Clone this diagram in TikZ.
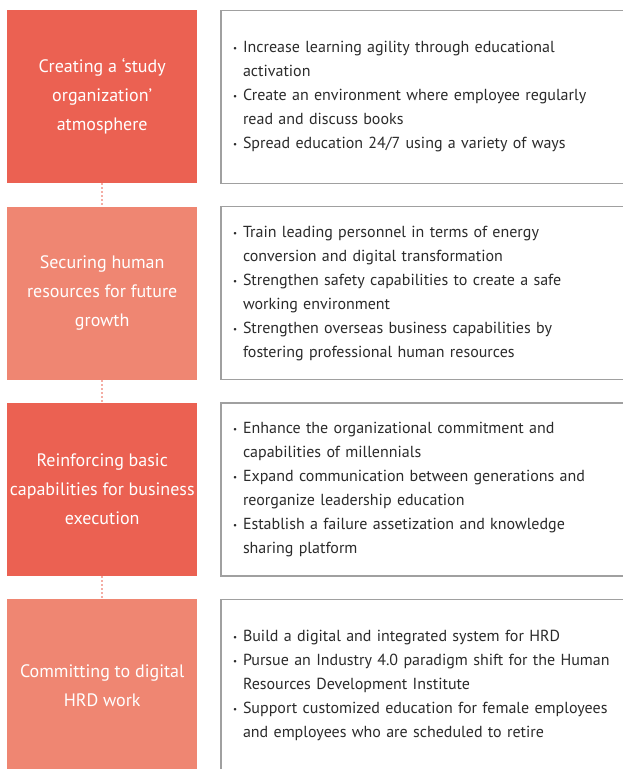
\documentclass[tikz,border=0pt]{standalone}
\usepackage{fontspec}
\setmainfont{PT Sans}
\usepackage{tikz}
\usetikzlibrary{positioning}
\definecolor{coral}   {HTML}{EB6152}
\definecolor{salmon}  {HTML}{EF8672}
\definecolor{dotpink} {HTML}{F4ADA4}
\definecolor{frame}   {HTML}{A0A0A0}
\definecolor{ink}     {HTML}{2B2B2B}
\newcommand{\bul}{\makebox[10pt][l]{\raisebox{1pt}{\fontsize{9}{9}\selectfont\textbullet}}}
\newcommand{\ind}{\hspace*{10pt}}
\tikzset{
  % --- nodes
  goal/.style  = {minimum width=190pt, minimum height=173pt, inner sep=0pt,
                  align=center, text=white, font=\fontsize{18}{29}\selectfont},
  goaldk/.style= {goal, fill=coral},
  goallt/.style= {goal, fill=salmon},
  task/.style  = {draw=frame, line width=1.2pt, fill=white, minimum height=173pt,
                  text width=385pt, inner xsep=12pt, inner ysep=0pt, align=left,
                  text=ink, font=\fontsize{16}{24}\selectfont},
  % --- edges
  link/.style  = {draw=dotpink, line width=1.6pt, dash pattern=on 2pt off 2pt},
}
\begin{document}
\begin{tikzpicture}
  \useasboundingbox (0,0) rectangle (622pt,-769pt);
  \node[goaldk, anchor=north west] (g1) at (7pt,-10pt)
    {Creating a `study\\organization'\\atmosphere};
  \node[goallt, below=23pt of g1] (g2) {Securing human\\resources for future\\growth};
  \node[goaldk, below=23pt of g2] (g3) {Reinforcing basic\\capabilities for business\\execution};
  \node[goallt, below=23pt of g3] (g4) {Committing to digital\\HRD work};

  \node[task, right=23pt of g1] (t1)
    {\bul Increase learning agility through educational\\\ind activation\\
     \bul Create an environment where employee regularly\\\ind read and discuss books\\
     \bul Spread education 24/7 using a variety of ways};
  \node[task, right=23pt of g2] (t2)
    {\bul Train leading personnel in terms of energy\\\ind conversion and digital transformation\\
     \bul Strengthen safety capabilities to create a safe\\\ind working environment\\
     \bul Strengthen overseas business capabilities by\\\ind fostering professional human resources};
  \node[task, right=23pt of g3] (t3)
    {\bul Enhance the organizational commitment and\\\ind capabilities of millennials\\
     \bul Expand communication between generations and\\\ind reorganize leadership education\\
     \bul Establish a failure assetization and knowledge\\\ind sharing platform};
  \node[task, right=23pt of g4] (t4)
    {\bul Build a digital and integrated system for HRD\\
     \bul Pursue an Industry 4.0 paradigm shift for the Human\\\ind Resources Development Institute\\
     \bul Support customized education for female employees\\\ind and employees who are scheduled to retire};

  \draw[link] (g1) -- (g2);
  \draw[link] (g2) -- (g3);
  \draw[link] (g3) -- (g4);
\end{tikzpicture}
\end{document}
